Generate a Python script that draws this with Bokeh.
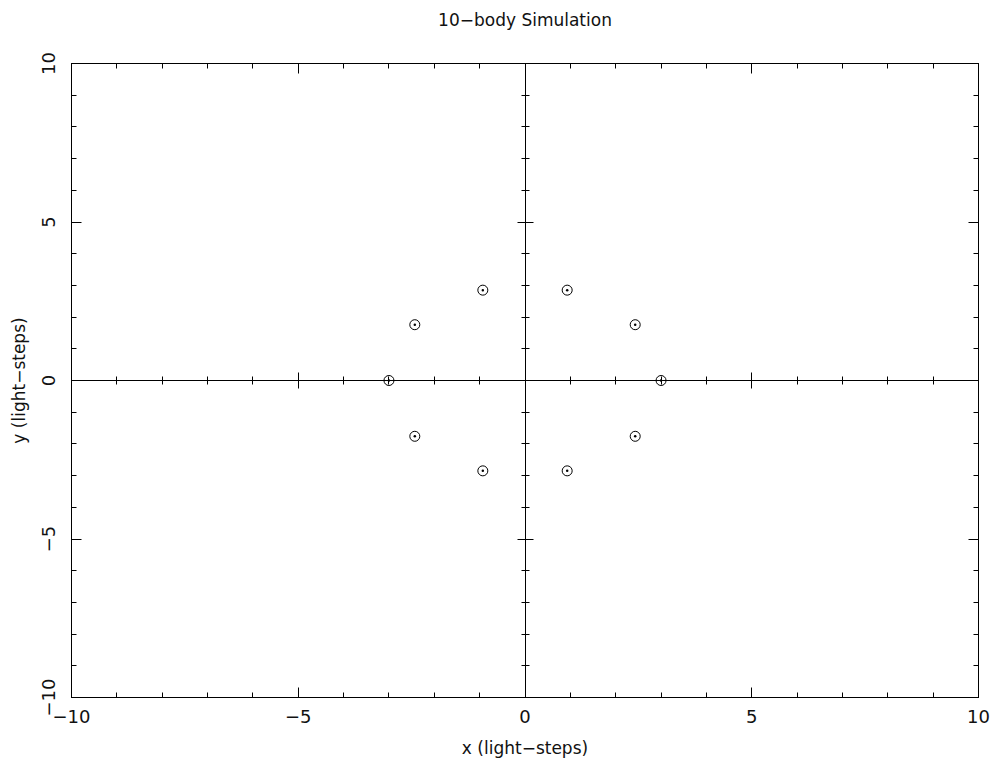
from bokeh.plotting import figure
from bokeh.models import LinearAxis, FixedTicker, Range1d
from bokeh.embed import file_html
from bokeh.resources import INLINE

# Data: positions of the 10 bodies
body_x = [3.0, 2.43, 0.93, -0.93, -2.43, -3.0, -2.43, -0.93, 0.93, 2.43]
body_y = [0.0, 1.76, 2.85, 2.85, 1.76, 0.0, -1.76, -2.85, -2.85, -1.76]

major_ticks = [-10, -5, 0, 5, 10]
minor_ticks = list(range(-10, 11))
tick_labels = {-10: "\u221210", -5: "\u22125", 0: "0", 5: "5", 10: "10"}
title_text = "10\u2212body Simulation"

FONT = "DejaVu Sans"

p = figure(width=998, height=771, x_range=Range1d(-10, 10), y_range=Range1d(-10, 10),
           output_backend="svg", toolbar_location=None,
           x_axis_location=None, y_axis_location=None,
           min_border_left=71, min_border_right=20, min_border_top=63, min_border_bottom=74)
p.grid.visible = False
p.outline_line_color = "black"
p.outline_line_width = 1
p.background_fill_color = "white"
p.border_fill_color = "white"

# second (blank) line lifts the title towards the top of the page
p.title.text = title_text + "\n "
p.title.align = "center"
p.title.text_font = FONT
p.title.text_font_size = "17px"
p.title.text_font_style = "normal"
p.title.text_color = "#111111"
p.title.text_line_height = 1.7
p.title.standoff = 0


def frame_axis(side, labels):
    ax = LinearAxis(ticker=FixedTicker(ticks=major_ticks, minor_ticks=minor_ticks))
    ax.axis_line_color = "black"
    ax.major_tick_in = 10
    ax.major_tick_out = 0
    ax.minor_tick_in = 5
    ax.minor_tick_out = 0
    ax.major_tick_line_color = "black"
    ax.minor_tick_line_color = "black"
    if labels:
        ax.major_label_overrides = tick_labels
        ax.major_label_text_font = FONT
        ax.major_label_text_font_size = "18px"
        ax.major_label_text_color = "#111111"
        ax.axis_label_text_font = FONT
        ax.axis_label_text_font_size = "17px"
        ax.axis_label_text_font_style = "normal"
        ax.axis_label_text_color = "#111111"
    else:
        ax.major_label_text_font_size = "0px"
        ax.major_label_text_alpha = 0
    p.add_layout(ax, side)
    return ax


bx = frame_axis("below", True)
bx.axis_label = "x (light\u2212steps)"
bx.major_label_standoff = 12
bx.axis_label_standoff = 12
ly = frame_axis("left", True)
ly.axis_label = "y (light\u2212steps)"
ly.major_label_orientation = "vertical"
ly.major_label_standoff = 17
ly.axis_label_standoff = 10
frame_axis("above", False)
frame_axis("right", False)

# Central axes through the origin, ticks crossing both sides
for side in ("below", "left"):
    ax = LinearAxis(ticker=FixedTicker(ticks=major_ticks, minor_ticks=minor_ticks), fixed_location=0)
    ax.axis_line_color = "black"
    ax.major_tick_in = 8
    ax.major_tick_out = 8
    ax.minor_tick_in = 4
    ax.minor_tick_out = 4
    ax.major_label_text_font_size = "0px"
    ax.major_label_text_alpha = 0
    p.add_layout(ax, side)

p.scatter(body_x, body_y, marker="circle_dot", size=10, fill_color=None,
          line_color="black", line_width=1)

open("out.html", "w").write(file_html(p, INLINE))
